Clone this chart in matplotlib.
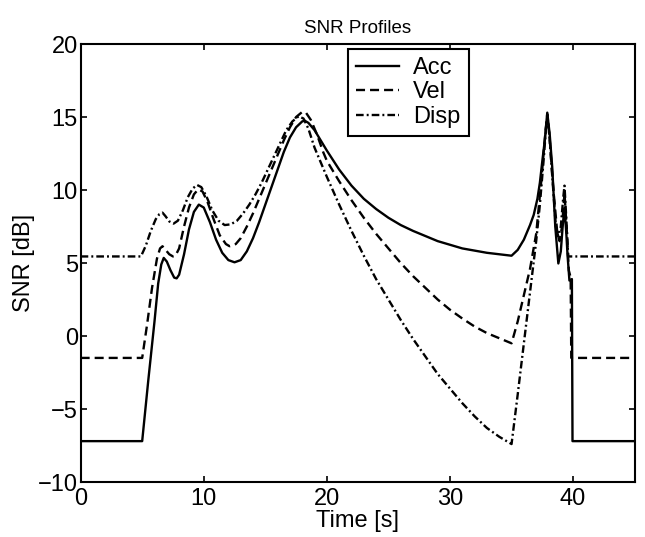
import numpy as np
import matplotlib
matplotlib.use("Agg")
import matplotlib.pyplot as plt

# values
acc_t = [0, 5.0, 5.5, 6.0, 6.3, 6.55, 6.75, 7.0, 7.3, 7.6, 7.8, 8.0, 8.4, 8.8, 9.2, 9.6,
         10.0, 10.5, 11.0, 11.5, 12.0, 12.5, 13.0, 13.5, 14.0, 14.5, 15.0, 15.5, 16.0,
         16.5, 17.0, 17.5, 18.0, 18.2, 18.5, 19.0, 19.5, 20, 21, 22, 23, 24, 25, 26, 27,
         28, 29, 30, 31, 32, 33, 34, 35.0, 35.5, 36.0, 36.5, 36.8, 37.1, 37.3, 37.5, 37.7,
         37.9, 38.1, 38.3, 38.55, 38.8, 39.0, 39.15, 39.3, 39.45, 39.55, 39.7, 39.9, 39.95, 45]
acc_snr = [-7.2, -7.2, -3.0, 1.0, 3.6, 4.9, 5.35, 5.1, 4.5, 4.0, 3.95, 4.2, 5.6, 7.3, 8.5, 9.0,
           8.8, 7.8, 6.6, 5.7, 5.2, 5.05, 5.2, 5.8, 6.7, 7.8, 9.0, 10.2, 11.4,
           12.6, 13.6, 14.3, 14.7, 14.75, 14.6, 14.1, 13.4, 12.7, 11.4, 10.3, 9.4, 8.7, 8.1, 7.6, 7.2,
           6.85, 6.5, 6.25, 6.0, 5.85, 5.7, 5.6, 5.5, 5.9, 6.6, 7.6, 8.3, 9.4, 10.5, 12.0, 13.4,
           15.3, 13.8, 11.6, 7.5, 4.97, 5.8, 7.5, 8.8, 7.0, 5.5, 3.8, 3.9, -7.2, -7.2]

vel_t = [0, 5.0, 5.4, 5.8, 6.2, 6.45, 6.65, 6.9, 7.2, 7.5, 7.7, 8.0, 8.4, 8.8, 9.2, 9.55,
         9.9, 10.3, 10.8, 11.3, 11.8, 12.1, 12.6, 13.0, 13.5, 14.0, 14.5, 15.0, 15.5, 16.0,
         16.5, 17.0, 17.5, 18.0, 18.3, 18.7, 19.2, 19.7, 20, 21, 22, 23, 24, 25, 26, 27, 28,
         29, 30, 31, 32, 33, 34, 35.0, 35.5, 36.0, 36.5, 37.0, 37.4, 37.7, 37.9, 38.1, 38.4,
         38.7, 38.9, 39.1, 39.3, 39.5, 39.65, 39.8, 39.85, 45]
vel_snr = [-1.5, -1.5, 0.8, 3.3, 5.3, 6.0, 6.15, 5.9, 5.6, 5.45, 5.5, 6.0, 7.5, 8.8, 9.7, 10.05,
           9.9, 9.2, 8.0, 6.9, 6.3, 6.15, 6.3, 6.7, 7.5, 8.4, 9.4, 10.4, 11.4, 12.4,
           13.4, 14.3, 15.0, 15.35, 15.3, 14.8, 13.8, 12.6, 12.0, 10.6, 9.3, 8.1, 7.0, 6.0, 5.0, 4.1, 3.3,
           2.5, 1.8, 1.2, 0.65, 0.2, -0.15, -0.5, 1.0, 2.8, 4.6, 7.0, 10.5, 13.5, 15.2, 13.5, 10.0,
           7.2, 6.5, 7.5, 9.8, 7.0, 4.5, 4.0, -1.5, -1.5]

disp_t = [0, 4.9, 5.3, 5.7, 6.1, 6.4, 6.65, 6.9, 7.2, 7.55, 7.9, 8.3, 8.7, 9.1, 9.45, 9.8,
          10.2, 10.7, 11.2, 11.7, 12.2, 12.7, 13.2, 13.7, 14.2, 14.7, 15.2, 15.7, 16.2, 16.7,
          17.2, 17.7, 18.1, 18.5, 19, 20, 21, 22, 23, 24, 25, 26, 27, 28, 29, 30, 31, 32, 33,
          34, 35.0, 35.5, 36.0, 36.5, 37.0, 37.3, 37.6, 37.85, 38.0, 38.3, 38.6, 38.8, 39.0,
          39.2, 39.3, 39.45, 39.6, 45]
disp_snr = [5.45, 5.45, 6.2, 7.2, 8.0, 8.35, 8.45, 8.2, 7.85, 7.7, 7.9, 8.6, 9.5, 10.1, 10.35, 10.2,
            9.6, 8.6, 7.9, 7.6, 7.65, 7.9, 8.4, 9.0, 9.7, 10.5, 11.4, 12.3, 13.2, 14.1,
            14.7, 15.05, 14.9, 14.2, 12.9, 10.9, 9.0, 7.2, 5.5, 3.9, 2.5, 1.1, -0.2, -1.4, -2.6, -3.6, -4.6, -5.5, -6.3,
            -6.9, -7.4, -4.0, -0.5, 3.0, 6.5, 9.0, 12.0, 14.8, 14.5, 11.0, 7.5, 6.8, 7.5,
            9.5, 10.3, 8.0, 5.45, 5.45]

plt.rcParams['font.family'] = ['Liberation Sans', 'DejaVu Sans']
plt.rcParams['font.size'] = 17
plt.rcParams['lines.scale_dashes'] = False

fig = plt.figure(figsize=(6.45, 5.37), dpi=100)
ax = fig.add_axes([0.125, 0.1024, 0.859, 0.8156])

ax.plot(acc_t, acc_snr, color='black', lw=1.7, label='Acc')
ax.plot(vel_t, vel_snr, color='black', lw=1.7, dashes=(6.5, 3.6), label='Vel')
ax.plot(disp_t, disp_snr, color='black', lw=1.7, dashes=(5.5, 2.2, 1.4, 2.2), label='Disp')

ax.set_xlim(0, 45)
ax.set_ylim(-10, 20)
ax.set_xticks([0, 10, 20, 30, 40])
ax.set_yticks([-10, -5, 0, 5, 10, 15, 20])
ax.set_yticklabels(['\u221210', '\u22125', '0', '5', '10', '15', '20'])
ax.tick_params(direction='in', top=True, right=True, length=4, width=1.2)
ax.tick_params(axis='x', pad=4)
ax.tick_params(axis='y', pad=2)
for s in ax.spines.values():
    s.set_linewidth(1.5)

ax.set_title('SNR Profiles', fontsize=13.5, pad=8)
ax.set_xlabel('Time [s]', labelpad=0)
ax.set_ylabel('SNR [dB]', labelpad=2)

leg = ax.legend(loc='upper left', bbox_to_anchor=(0.483, 0.989), borderaxespad=0,
                fancybox=False, framealpha=1, edgecolor='black', handlelength=1.8,
                handletextpad=0.6, labelspacing=0.1, borderpad=0.35)
leg.get_frame().set_linewidth(1.5)

fig.savefig('out.png', dpi=100)
